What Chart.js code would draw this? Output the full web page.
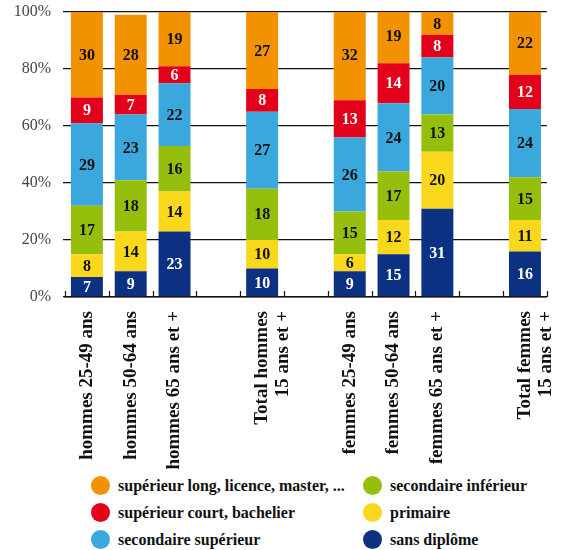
<!DOCTYPE html>
<html lang="fr">
<head>
<meta charset="utf-8">
<script src="https://cdn.jsdelivr.net/npm/chart.js@4.4.1/dist/chart.umd.min.js"></script>
<style>
body { margin: 0; background: #fff; }
#wrap { position: relative; width: 581px; height: 550px; }
#box { position: absolute; left: 0; top: 0; width: 581px; height: 470px; }
#legend {
    position: absolute; left: 91px; top: 472px;
    display: grid; grid-auto-flow: column;
    grid-template-rows: repeat(3, 27px);
    grid-template-columns: 272px 200px;
    font: bold 16px "Liberation Serif", "DejaVu Serif", serif; color: #111;
}
.item { display: flex; align-items: center; white-space: nowrap; }
.dot { width: 19px; height: 19px; border-radius: 50%; margin-right: 8px; flex: none; }
</style>
</head>
<body>
<div id="wrap">
    <div id="box"><canvas id="chart"></canvas></div>
    <div id="legend"></div>
</div>
<script>
// categories ('' = empty slot between groups)
const categories = [
    'hommes 25-49 ans', 'hommes 50-64 ans', 'hommes 65 ans et +', '',
    ['Total hommes', '15 ans et +'], '',
    'femmes 25-49 ans', 'femmes 50-64 ans', 'femmes 65 ans et +', '',
    ['Total femmes', '15 ans et +']
];

// series, from bottom of the stack to top (%)
const sansDiplome   = [7, 9, 23, null, 10, null, 9, 15, 31, null, 16];
const primaire      = [8, 14, 14, null, 10, null, 6, 12, 20, null, 11];
const secInferieur  = [17, 18, 16, null, 18, null, 15, 17, 13, null, 15];
const secSuperieur  = [29, 23, 22, null, 27, null, 26, 24, 20, null, 24];
const supCourt      = [9, 7, 6, null, 8, null, 13, 14, 8, null, 12];
const supLong       = [30, 28, 19, null, 27, null, 32, 19, 8, null, 22];

const yTicks = [0, 20, 40, 60, 80, 100];

const series = [
    { name: 'sans diplôme', data: sansDiplome, color: '#0d3182', text: '#fff' },
    { name: 'primaire', data: primaire, color: '#f9d71a', text: '#111' },
    { name: 'secondaire inférieur', data: secInferieur, color: '#96bf0d', text: '#111' },
    { name: 'secondaire supérieur', data: secSuperieur, color: '#3aa8dc', text: '#111' },
    { name: 'supérieur court, bachelier', data: supCourt, color: '#e3001b', text: '#fff' },
    { name: 'supérieur long, licence, master, ...', data: supLong, color: '#f39200', text: '#111' }
];

const serif = '"Liberation Serif", "DejaVu Serif", serif';

// numbers inside the segments
const barLabels = {
    id: 'barLabels',
    afterDatasetsDraw(chart) {
        const ctx = chart.ctx;
        ctx.save();
        ctx.font = 'bold 16px ' + serif;
        ctx.textAlign = 'center';
        ctx.textBaseline = 'middle';
        chart.data.datasets.forEach((ds, i) => {
            chart.getDatasetMeta(i).data.forEach((bar, j) => {
                const v = ds.data[j];
                if (v == null) return;
                ctx.fillStyle = series[i].text;
                ctx.fillText(v, bar.x, (bar.y + bar.base) / 2 + 1);
            });
        });
        ctx.restore();
    }
};

// small upward ticks on the x axis between categories
const innerTicks = {
    id: 'innerTicks',
    afterDatasetsDraw(chart) {
        const x = chart.scales.x, ctx = chart.ctx;
        const bottom = chart.chartArea.bottom;
        ctx.save();
        ctx.strokeStyle = '#111';
        ctx.lineWidth = 1.2;
        for (let i = 0; i <= categories.length; i++) {
            const px = Math.round(x.getPixelForValue(i - 0.5)) + 0.5;
            ctx.beginPath();
            ctx.moveTo(px, bottom);
            ctx.lineTo(px, bottom - 6);
            ctx.stroke();
        }
        ctx.restore();
    }
};

new Chart(document.getElementById('chart'), {
    type: 'bar',
    data: {
        labels: categories,
        datasets: series.map(s => ({
            label: s.name,
            data: s.data,
            backgroundColor: s.color,
            borderWidth: 0,
            categoryPercentage: 1,
            barPercentage: 0.73
        }))
    },
    options: {
        responsive: true,
        maintainAspectRatio: false,
        animation: false,
        layout: { padding: { top: 12, right: 5, left: 0, bottom: 0 } },
        plugins: { legend: { display: false }, tooltip: { enabled: false } },
        scales: {
            x: {
                stacked: true,
                grid: { display: false, drawTicks: false },
                border: { display: true, color: '#111', width: 1.5 },
                ticks: {
                    autoSkip: false, minRotation: 90, maxRotation: 90,
                    padding: 14, color: '#111',
                    font: { family: serif, size: 19, weight: 'bold', lineHeight: 1.1 }
                },
                afterFit(scale) { scale.height = 173; }
            },
            y: {
                stacked: true,
                min: 0, max: 100,
                afterBuildTicks(scale) { scale.ticks = yTicks.map(v => ({ value: v })); },
                grid: { color: '#111', lineWidth: 1.3, tickLength: 2 },
                border: { display: false },
                ticks: {
                    padding: 12, color: '#444',
                    font: { family: serif, size: 16 },
                    callback: v => v + '%'
                },
                afterFit(scale) {
                    scale.width = 65;
                    scale.paddingTop = 0;
                    scale.paddingBottom = 0;
                }
            }
        }
    },
    plugins: [barLabels, innerTicks]
});

// legend: two columns, top of the stack first
const legend = document.getElementById('legend');
series.slice().reverse().forEach(s => {
    const item = document.createElement('div');
    item.className = 'item';
    const dot = document.createElement('span');
    dot.className = 'dot';
    dot.style.background = s.color;
    const txt = document.createElement('span');
    txt.textContent = s.name;
    item.appendChild(dot);
    item.appendChild(txt);
    legend.appendChild(item);
});
</script>
</body>
</html>
